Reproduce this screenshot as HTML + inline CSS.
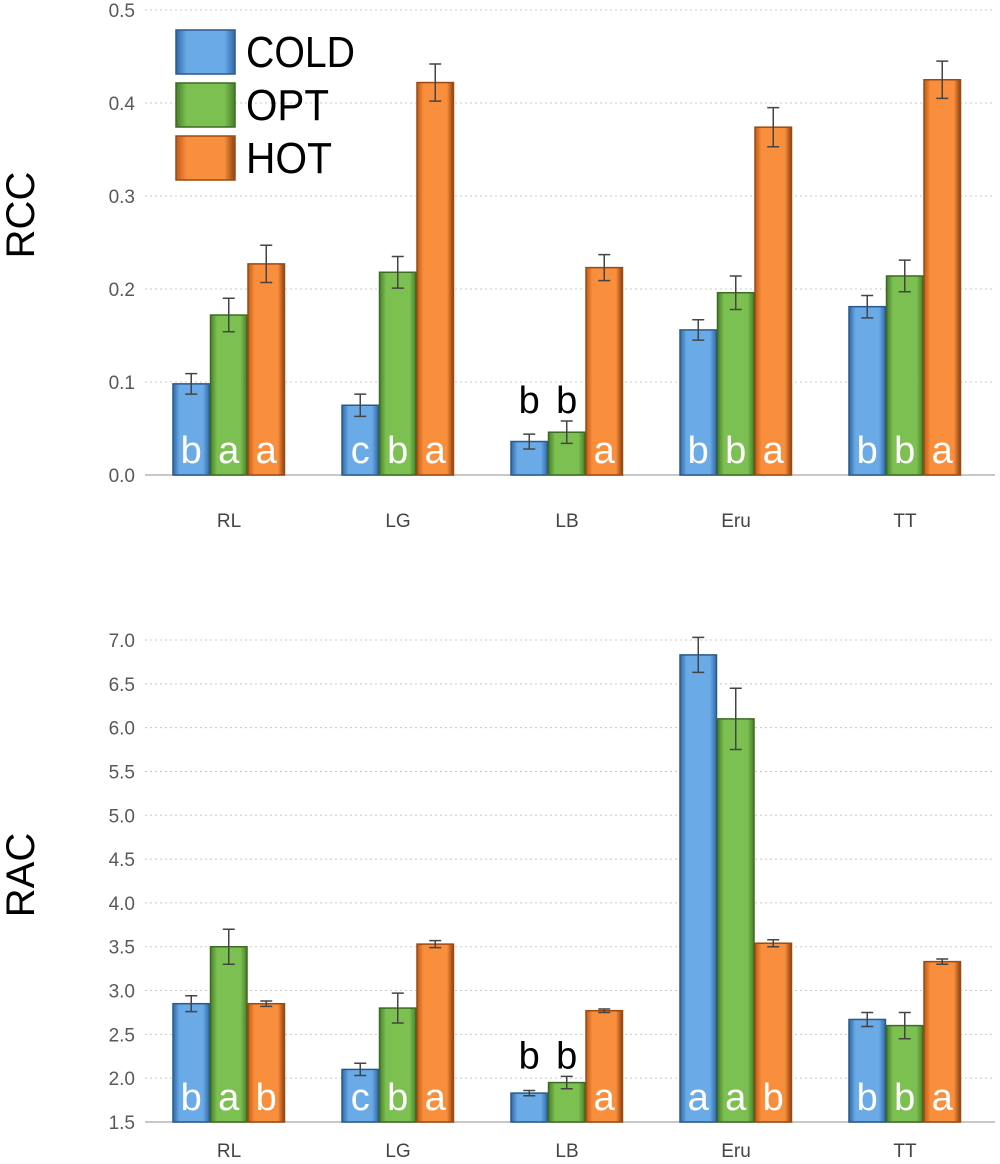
<!DOCTYPE html>
<html><head><meta charset="utf-8"><style>
body{margin:0;background:#fff;font-family:"Liberation Sans",sans-serif}
svg text{font-family:"Liberation Sans",sans-serif}
</style></head><body>
<svg id="c" width="1000" height="1159" xmlns="http://www.w3.org/2000/svg">
<defs>
<linearGradient id="gb" x1="0" x2="1"><stop offset="0" stop-color="#2f6aa8"/><stop offset="0.18" stop-color="#6aaae6"/><stop offset="0.82" stop-color="#6aaae6"/><stop offset="1" stop-color="#2f6aa8"/></linearGradient>
<linearGradient id="gg" x1="0" x2="1"><stop offset="0" stop-color="#487f28"/><stop offset="0.18" stop-color="#7dc052"/><stop offset="0.82" stop-color="#7dc052"/><stop offset="1" stop-color="#487f28"/></linearGradient>
<linearGradient id="go" x1="0" x2="1"><stop offset="0" stop-color="#c05a16"/><stop offset="0.18" stop-color="#f98e3c"/><stop offset="0.82" stop-color="#f98e3c"/><stop offset="1" stop-color="#8c4210"/></linearGradient>
</defs>
<text transform="translate(34,215) rotate(-90)" text-anchor="middle" font-size="40">RCC</text>
<text transform="translate(34,875) rotate(-90)" text-anchor="middle" font-size="40">RAC</text>
</svg>
<script>
const categories=["RL","LG","LB","Eru","TT"];
const rccCold=[0.098,0.075,0.036,0.156,0.181];
const rccOpt=[0.172,0.218,0.046,0.196,0.214];
const rccHot=[0.227,0.422,0.223,0.374,0.425];
const rccColdErr=[0.011,0.012,0.008,0.011,0.012];
const rccOptErr=[0.018,0.017,0.012,0.018,0.017];
const rccHotErr=[0.02,0.02,0.014,0.021,0.02];
const rccLetters=[["b","a","a"],["c","b","a"],["b","b","a"],["b","b","a"],["b","b","a"]];
const rccTicks=["0.0","0.1","0.2","0.3","0.4","0.5"];
const racCold=[2.85,2.1,1.83,6.83,2.67];
const racOpt=[3.5,2.8,1.95,6.1,2.6];
const racHot=[2.85,3.53,2.77,3.54,3.33];
const racColdErr=[0.09,0.07,0.03,0.2,0.08];
const racOptErr=[0.2,0.17,0.07,0.35,0.15];
const racHotErr=[0.03,0.04,0.02,0.04,0.03];
const racLetters=[["b","a","b"],["c","b","a"],["b","b","a"],["a","a","b"],["b","b","a"]];
const racTicks=["1.5","2.0","2.5","3.0","3.5","4.0","4.5","5.0","5.5","6.0","6.5","7.0"];
const series=["COLD","OPT","HOT"];
const legendWidths=[109,83,86];
const NS="http://www.w3.org/2000/svg";
const svg=document.getElementById('c');
function mk(t,a,txt){const e=document.createElementNS(NS,t);for(const k in a)e.setAttribute(k,a[k]);if(txt!==undefined)e.textContent=txt;svg.appendChild(e);return e;}
const fills=["url(#gb)","url(#gg)","url(#go)"],strokes=["#2a5a8c","#3d6b22","#9c4a12"];
function chart(p,ymin,ymax,y0,y1,ticks,vals,errs,letters,labY){
  const y=v=>y0+(v-ymin)/(ymax-ymin)*(y1-y0);
  const xc=i=>229+i*169;
  ticks.forEach(t=>{const v=parseFloat(t);
    const g=mk('line',{x1:145,x2:995,y1:y(v),y2:y(v),stroke:'#c8c8c8','stroke-dasharray':'2,3'});
    
    const tx=mk('text',{x:135,y:y(v)+7,'text-anchor':'end','font-size':19,fill:'#595959'},t);
    });
  const ax=mk('line',{x1:145,x2:995,y1:y0,y2:y0,stroke:'#c8c8c8','stroke-width':2});
  
  categories.forEach((c,i)=>{
    let topOut=y0;
    for(let s=0;s<3;s++){const v=vals[s][i],e=errs[s][i];if(y0-y(v)<=45)topOut=Math.min(topOut,y(v+e));}
    for(let s=0;s<3;s++){const v=vals[s][i],e=errs[s][i];
      const bx=xc(i)-56+s*37.5;
      const r=mk('rect',{x:bx,y:y(v),width:36.5,height:y0-y(v),fill:fills[s],stroke:strokes[s],'stroke-width':1.5});
      
      const cx=bx+18.25;
      const eb=mk('path',{d:`M${cx} ${y(v+e)}V${y(v-e)}M${cx-6} ${y(v+e)}H${cx+6}M${cx-6} ${y(v-e)}H${cx+6}`,stroke:'#444','stroke-width':1.5,fill:'none'});
      
      const inside=(y0-y(v))>45;
      const lt=mk('text',{x:cx,y:inside?y0-12:topOut-8,'text-anchor':'middle','font-size':38,fill:inside?'#fff':'#000'},letters[i][s]);
      
    }
    const cl=mk('text',{x:xc(i),y:labY,'text-anchor':'middle','font-size':19,fill:'#444'},c);
    
  });
}
chart('rcc',0,0.5,475,10,rccTicks,[rccCold,rccOpt,rccHot],[rccColdErr,rccOptErr,rccHotErr],rccLetters,527);
chart('rac',1.5,7.0,1122,640,racTicks,[racCold,racOpt,racHot],[racColdErr,racOptErr,racHotErr],racLetters,1157);
series.forEach((s,i)=>{
  const r=mk('rect',{x:176,y:30+i*53,width:59,height:44,fill:fills[i],stroke:strokes[i],'stroke-width':1.5});
  
  const t=mk('text',{x:246,y:67+i*53,'font-size':44,fill:'#000',textLength:legendWidths[i],lengthAdjust:'spacingAndGlyphs'},s);
  
});
</script>
</body></html>
